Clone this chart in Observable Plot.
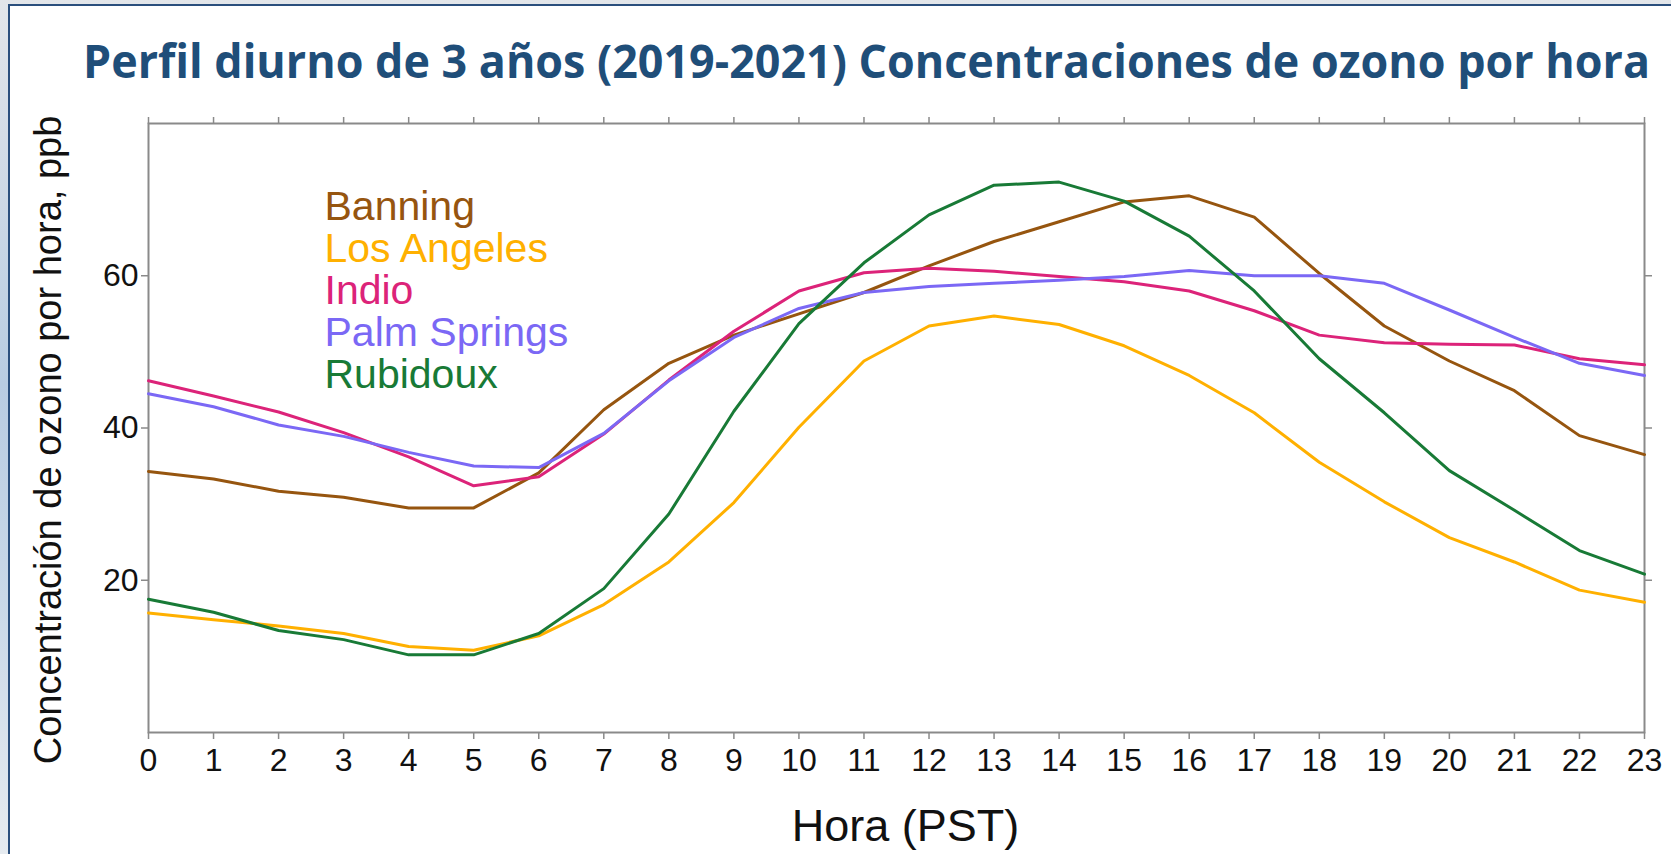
<!DOCTYPE html>
<html>
<head>
<meta charset="utf-8">
<script src="https://cdn.jsdelivr.net/npm/d3@7"></script>
<script src="https://cdn.jsdelivr.net/npm/@observablehq/plot@0.6"></script>
<style>
  html, body { margin: 0; padding: 0; }
  body { width: 1671px; height: 854px; overflow: hidden; }
  #slide { position: relative; width: 1671px; height: 854px; overflow: hidden;
    background: linear-gradient(180deg, #e3e6ea 0%, #b8cce2 45%, #c9d8e8 70%, #e6ebf0 100%); }
  #panel { position: absolute; left: 8px; top: 4px; width: 1700px; height: 900px; background: #ffffff;
    border-left: 2px solid #2b4f7d; border-top: 2px solid #2b4f7d; }
  #title { position: absolute; left: 83px; top: 37px; font-family: "Open Sans", sans-serif; font-weight: 700;
    font-size: 46px; line-height: 1; color: #1f4e79; white-space: nowrap; transform-origin: 0 0; }
  #chart { position: absolute; left: 0; top: 100px; }
</style>
</head>
<body>
<div id="slide">
  <div id="panel"></div>
  <div id="title">Perfil diurno de 3 años (2019-2021) Concentraciones de ozono por hora</div>
  <div id="chart"></div>
</div>
<script>
// ---- data ----
const hours = [0,1,2,3,4,5,6,7,8,9,10,11,12,13,14,15,16,17,18,19,20,21,22,23];
const seriesNames = ["Banning", "Los Angeles", "Indio", "Palm Springs", "Rubidoux"];
const seriesColors = ["#96550f", "#ffb000", "#dc2379", "#7b68f5", "#187a36"];
const banning     = [34.3,33.3,31.7,30.9,29.5,29.5,34.1,42.4,48.5,52.2,55.0,57.8,61.3,64.5,67.1,69.7,70.5,67.7,60.3,53.4,48.8,44.9,39.0,36.5];
const losAngeles  = [15.7,14.8,14.0,13.0,11.3,10.8,12.7,16.8,22.4,30.2,40.1,48.8,53.4,54.7,53.6,50.8,46.9,42.0,35.5,30.3,25.6,22.4,18.7,17.1];
const indio       = [46.2,44.2,42.1,39.4,36.2,32.4,33.6,39.2,46.3,52.7,58.0,60.4,61.0,60.6,59.9,59.2,58.0,55.4,52.2,51.2,51.0,50.9,49.1,48.3];
const palmSprings = [44.5,42.8,40.4,38.9,36.8,35.0,34.8,39.3,46.2,51.9,55.7,57.8,58.6,59.0,59.4,59.9,60.7,60.0,60.0,59.0,55.5,51.9,48.5,46.9];
const rubidoux    = [17.5,15.8,13.4,12.2,10.2,10.2,13.0,18.9,28.7,42.2,53.7,61.7,68.0,71.9,72.3,69.8,65.2,58.0,49.1,42.0,34.4,29.2,23.9,20.8];
const yTicks = [20, 40, 60];
const xLabel = "Hora (PST)";
const yLabel = "Concentración de ozono por hora, ppb";

const seriesValues = [banning, losAngeles, indio, palmSprings, rubidoux];
const rows = seriesNames.flatMap((s, i) => hours.map((h, j) => ({series: s, hour: h, value: seriesValues[i][j]})));

const axisGray = "#8a8a8a";
const legendMarks = seriesNames.map((s, i) => Plot.text([s], {
  text: d => d, frameAnchor: "top-left", dx: 176, dy: 83 + i * 42,
  textAnchor: "start", lineAnchor: "middle", fill: seriesColors[i],
  fontSize: 41, fontFamily: "Liberation Sans, Arial, sans-serif"
}));

const chart = Plot.plot({
  width: 1671,
  height: 754,
  marginLeft: 148,
  marginRight: 27,
  marginTop: 23,
  marginBottom: 122,
  style: {fontFamily: "Liberation Sans, Arial, sans-serif", background: "transparent", overflow: "visible"},
  x: {domain: [0, 23]},
  y: {domain: [0, 80]},
  color: {domain: seriesNames, range: seriesColors},
  marks: [
    Plot.frame({stroke: axisGray, strokeWidth: 2}),
    Plot.axisX({anchor: "bottom", ticks: hours, tickFormat: d => String(d), tickSize: 7, tickPadding: 9,
      fontSize: 32, fill: "#111", stroke: axisGray, strokeWidth: 1.5, label: null}),
    Plot.axisX({anchor: "top", ticks: hours, tickFormat: () => "", tickSize: 7, stroke: axisGray, strokeWidth: 1.5, label: null}),
    Plot.axisY({anchor: "left", ticks: yTicks, tickFormat: d => String(d), tickSize: 7, tickPadding: 3,
      fontSize: 32, fill: "#111", stroke: axisGray, strokeWidth: 1.5, label: null}),
    Plot.axisY({anchor: "right", ticks: yTicks, tickFormat: () => "", tickSize: 7, stroke: axisGray, strokeWidth: 1.5, label: null}),
    Plot.line(rows, {x: "hour", y: "value", z: "series", stroke: "series", strokeWidth: 3, strokeLinejoin: "round"}),
    ...legendMarks,
    Plot.text([yLabel], {text: d => d, frameAnchor: "left", dx: -100, dy: 12, rotate: -90,
      textAnchor: "middle", lineAnchor: "middle", fontSize: 38, fill: "#111"}),
    Plot.text([xLabel], {text: d => d, frameAnchor: "bottom", dx: 9, dy: 94,
      textAnchor: "middle", lineAnchor: "middle", fontSize: 45, fill: "#111"})
  ]
});
document.getElementById("chart").appendChild(chart);

const title = document.getElementById("title");
const w = title.getBoundingClientRect().width;
title.style.transform = `scaleX(${1567 / w})`;
</script>
</body>
</html>
